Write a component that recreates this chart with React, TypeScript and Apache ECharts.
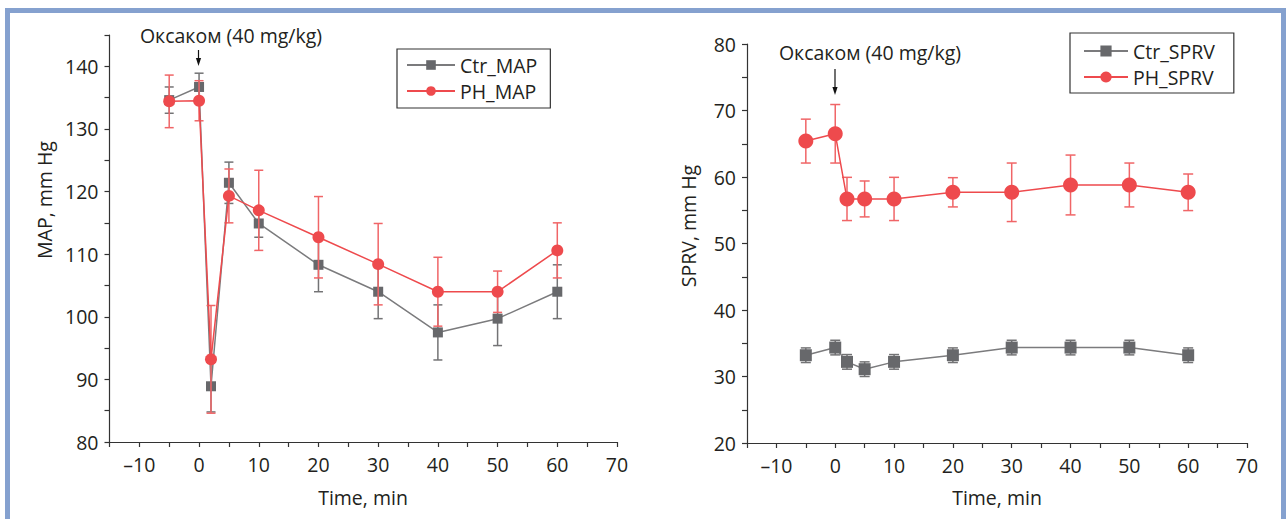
import React, { useEffect, useRef } from "react";
import * as echarts from "echarts";

const time = [-5, 0, 2, 5, 10, 20, 30, 40, 50, 60];

const ctrMap = [134.6, 136.7, 88.9, 121.4, 114.9, 108.3, 104.0, 97.5, 99.7, 104.0];
const ctrMapErr = [2.1, 2.2, 4.1, 3.3, 2.2, 4.3, 4.3, 4.4, 4.3, 4.3];
const phMap = [134.4, 134.5, 93.2, 119.3, 117.0, 112.7, 108.4, 104.0, 104.0, 110.6];
const phMapErr = [4.2, 3.2, 8.6, 4.3, 6.4, 6.5, 6.5, 5.5, 3.3, 4.4];

const ctrSprv = [33.2, 34.35, 32.2, 31.1, 32.2, 33.2, 34.35, 34.35, 34.35, 33.2];
const ctrSprvErr = [1.1, 1.1, 1.1, 1.1, 1.1, 1.1, 1.1, 1.1, 1.1, 1.1];
const phSprv = [65.4, 66.5, 56.7, 56.7, 56.7, 57.7, 57.7, 58.8, 58.8, 57.7];
const phSprvErr = [3.3, 4.4, 3.25, 2.7, 3.25, 2.2, 4.4, 4.5, 3.3, 2.75];

const annotation = "Оксаком (40 mg/kg)";
const xName = "Time, min";
const yNameLeft = "MAP, mm Hg";
const yNameRight = "SPRV, mm Hg";

const FONT = "Open Sans";
const FS = 19.5;
const GRAY_LINE = "#7b7b7d";
const GRAY_MARK = "#67686b";
const GRAY_ERR = "#737375";
const RED = "#ee4a4d";
const RED_ERR = "#f06567";
const TEXT = "#231f20";

function pairs(xs: number[], ys: number[]) {
  return xs.map((x, i) => [x, ys[i]]);
}
function errData(xs: number[], ys: number[], es: number[]) {
  return xs.map((x, i) => [x, ys[i] - es[i], ys[i] + es[i]]);
}

function errRender(color: string, capW: number) {
  return (params: any, api: any) => {
    const x = api.value(0);
    const p1 = api.coord([x, api.value(1)]);
    const p2 = api.coord([x, api.value(2)]);
    const st = { stroke: color, lineWidth: 1.5 };
    return {
      type: "group",
      children: [
        { type: "line", shape: { x1: p1[0], y1: p1[1], x2: p2[0], y2: p2[1] }, style: st },
        { type: "line", shape: { x1: p1[0] - capW / 2, y1: p1[1], x2: p1[0] + capW / 2, y2: p1[1] }, style: st },
        { type: "line", shape: { x1: p2[0] - capW / 2, y1: p2[1], x2: p2[0] + capW / 2, y2: p2[1] }, style: st },
      ],
    };
  };
}

function xAxisDef(gridIndex: number) {
  return {
    type: "value",
    gridIndex,
    min: -15,
    max: 70,
    interval: 5,
    splitLine: { show: false },
    axisLine: { show: true, onZero: false, lineStyle: { color: "#333", width: 1.2 } },
    axisTick: { show: true, inside: false, length: 5, lineStyle: { color: "#333", width: 1.2 } },
    axisLabel: {
      color: TEXT,
      fontFamily: FONT,
      fontSize: FS,
      margin: 12,
      formatter: (v: number) => {
        if (v % 10 !== 0 || v < -10) return "";
        return v < 0 ? "–" + Math.abs(v) : String(v);
      },
    },
  };
}

function yAxisDef(gridIndex: number, min: number, max: number) {
  return {
    type: "value",
    gridIndex,
    min,
    max,
    interval: 5,
    splitLine: { show: false },
    axisLine: { show: true, onZero: false, lineStyle: { color: "#333", width: 1.2 } },
    axisTick: { show: true, inside: false, length: 5, lineStyle: { color: "#333", width: 1.2 } },
    axisLabel: {
      color: TEXT,
      fontFamily: FONT,
      fontSize: FS,
      margin: 11,
      formatter: (v: number) => (v % 10 === 0 ? String(v) : ""),
    },
  };
}

function arrow(x: number, y1: number, y2: number) {
  return [
    { type: "line", shape: { x1: x, y1, x2: x, y2: y2 - 6 }, style: { stroke: "#111", lineWidth: 1.2 } },
    { type: "polygon", shape: { points: [[x - 2.6, y2 - 8], [x + 2.6, y2 - 8], [x, y2]] }, style: { fill: "#111" } },
  ];
}

function label(text: string, x: number, y: number, rotate = false) {
  return {
    type: "text",
    x,
    y,
    rotation: rotate ? Math.PI / 2 : 0,
    style: { text, fontFamily: FONT, fontSize: FS, fill: TEXT, align: "center", verticalAlign: "middle" },
  };
}

export default function App() {
  const ref = useRef<HTMLDivElement>(null);
  useEffect(() => {
    if (!ref.current) return;
    const chart = echarts.init(ref.current, null, { renderer: "svg" });
    const option: any = {
      animation: false,
      backgroundColor: "#ffffff",
      textStyle: { fontFamily: FONT },
      grid: [
        { left: 109.5, top: 35, width: 507.5, height: 407 },
        { left: 747, top: 44, width: 500, height: 399 },
      ],
      xAxis: [xAxisDef(0), xAxisDef(1)],
      yAxis: [yAxisDef(0, 80, 145), yAxisDef(1, 20, 80)],
      legend: [
        {
          data: ["Ctr_MAP", "PH_MAP"],
          orient: "vertical",
          left: 397,
          top: 49,
          padding: [6, 13, 7, 9],
          itemWidth: 48,
          itemHeight: 12,
          itemGap: 6,
          borderColor: "#333",
          borderWidth: 1.2,
          textStyle: { fontFamily: FONT, fontSize: FS, color: TEXT },
        },
        {
          data: ["Ctr_SPRV", "PH_SPRV"],
          orient: "vertical",
          left: 1070,
          top: 33,
          padding: [8, 19, 6, 13],
          itemWidth: 44,
          itemHeight: 14,
          itemGap: 6,
          borderColor: "#333",
          borderWidth: 1.2,
          textStyle: { fontFamily: FONT, fontSize: FS, color: TEXT },
        },
      ],
      series: [
        {
          type: "custom",
          name: "err_ctr_map",
          xAxisIndex: 0,
          yAxisIndex: 0,
          renderItem: errRender(GRAY_ERR, 9),
          data: errData(time, ctrMap, ctrMapErr),
          encode: { x: 0, y: [1, 2] },
          z: 1,
        },
        {
          type: "line",
          name: "Ctr_MAP",
          xAxisIndex: 0,
          yAxisIndex: 0,
          data: pairs(time, ctrMap),
          symbol: "rect",
          symbolSize: 10,
          itemStyle: { color: GRAY_MARK },
          lineStyle: { color: GRAY_LINE, width: 1.5 },
          z: 2,
        },
        {
          type: "custom",
          name: "err_ph_map",
          xAxisIndex: 0,
          yAxisIndex: 0,
          renderItem: errRender(RED_ERR, 9),
          data: errData(time, phMap, phMapErr),
          encode: { x: 0, y: [1, 2] },
          z: 3,
        },
        {
          type: "line",
          name: "PH_MAP",
          xAxisIndex: 0,
          yAxisIndex: 0,
          data: pairs(time, phMap),
          symbol: "circle",
          symbolSize: 12,
          itemStyle: { color: RED },
          lineStyle: { color: RED, width: 1.5 },
          z: 4,
        },
        {
          type: "custom",
          name: "err_ctr_sprv",
          xAxisIndex: 1,
          yAxisIndex: 1,
          renderItem: errRender(GRAY_ERR, 10),
          data: errData(time, ctrSprv, ctrSprvErr),
          encode: { x: 0, y: [1, 2] },
          z: 1,
        },
        {
          type: "line",
          name: "Ctr_SPRV",
          xAxisIndex: 1,
          yAxisIndex: 1,
          data: pairs(time, ctrSprv),
          symbol: "rect",
          symbolSize: 12,
          itemStyle: { color: GRAY_MARK },
          lineStyle: { color: GRAY_LINE, width: 1.5 },
          z: 2,
        },
        {
          type: "custom",
          name: "err_ph_sprv",
          xAxisIndex: 1,
          yAxisIndex: 1,
          renderItem: errRender(RED_ERR, 10),
          data: errData(time, phSprv, phSprvErr),
          encode: { x: 0, y: [1, 2] },
          z: 3,
        },
        {
          type: "line",
          name: "PH_SPRV",
          xAxisIndex: 1,
          yAxisIndex: 1,
          data: pairs(time, phSprv),
          symbol: "circle",
          symbolSize: 15,
          itemStyle: { color: RED },
          lineStyle: { color: RED, width: 1.5 },
          z: 4,
        },
      ],
      graphic: [
        {
          type: "rect",
          shape: { x: 7.5, y: 10.5, width: 1276, height: 620 },
          style: { fill: "none", stroke: "#85a1cf", lineWidth: 5 },
          silent: true,
        },
        label(annotation, 231, 35),
        ...arrow(198.5, 50, 66),
        label(annotation, 870, 52),
        ...arrow(835, 69, 95),
        label(xName, 363, 497),
        label(xName, 997, 497),
        label(yNameLeft, 44, 200, true),
        label(yNameRight, 688, 226, true),
      ],
    };
    chart.setOption(option);
    return () => chart.dispose();
  }, []);
  return (
    <div
      ref={ref}
      style={{ position: "absolute", left: 0, top: 0, width: 1288, height: 519 }}
    />
  );
}
